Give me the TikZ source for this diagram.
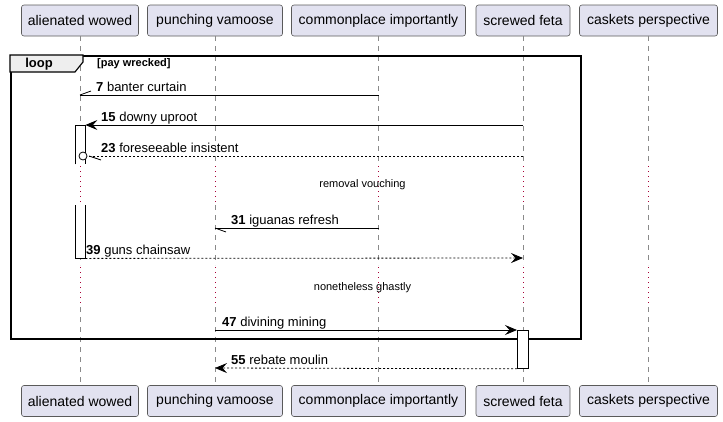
\documentclass[tikz,border=0pt]{standalone}
\usepackage{fontspec}
\setmainfont{Liberation Sans}
\usetikzlibrary{arrows.meta}
\definecolor{partfill}{HTML}{E2E2F0}
\definecolor{partline}{HTML}{5A5A5A}
\definecolor{lifegray}{HTML}{8A8A8A}
\definecolor{delaycol}{HTML}{A80036}
\definecolor{tabfill}{HTML}{EEEEEE}
\tikzset{
 part/.style={draw=partline, fill=partfill, rounded corners=2.5pt, line width=0.6pt, minimum height=31pt, inner sep=0pt, font=\fontsize{14}{16}\selectfont},
 lifeline/.style={draw=lifegray, line width=0.7pt, dash pattern=on 5pt off 5pt},
 delayline/.style={draw=delaycol, line width=0.9pt, dash pattern=on 1pt off 4pt},
 msg/.style={line width=0.8pt},
 reply/.style={line width=0.8pt, dash pattern=on 2pt off 2pt},
 tip/.style={-{Stealth[length=12pt,width=10pt,inset=4.5pt]}},
 lbl/.style={anchor=base west, inner sep=0pt, font=\fontsize{13}{15}\selectfont},
 dlbl/.style={inner sep=0pt, font=\fontsize{11}{13}\selectfont},
 actbox/.style={fill=white, inner sep=0pt, anchor=north west},
 actline/.style={line width=0.8pt},
}
\begin{document}
\begin{tikzpicture}[x=1pt,y=-1pt]
\useasboundingbox (0,0) rectangle (723,421);
% participants
\node[part, minimum width=117pt] (top1) at (80,20.5) {alienated wowed};
\node[part, minimum width=135pt] (top2) at (215,20.5) {punching vamoose};
\node[part, minimum width=174pt] (top3) at (378.5,20.5) {commonplace importantly};
\node[part, minimum width=94pt] (top4) at (523,20.5) {screwed feta};
\node[part, minimum width=138pt] (top5) at (648.5,20.5) {caskets perspective};
\node[part, minimum width=117pt] (bot1) at (80,401) {alienated wowed};
\node[part, minimum width=135pt] (bot2) at (215,401) {punching vamoose};
\node[part, minimum width=174pt] (bot3) at (378.5,401) {commonplace importantly};
\node[part, minimum width=94pt] (bot4) at (523,401) {screwed feta};
\node[part, minimum width=138pt] (bot5) at (648.5,401) {caskets perspective};
% lifelines
\foreach \p in {1,...,5}{
  \draw[lifeline] (top\p.south) -- (top\p.south |- 0,165);
  \draw[delayline] (top\p.south |- 0,166) -- (top\p.south |- 0,205);
  \draw[lifeline] (top\p.south |- 0,205) -- (top\p.south |- 0,265);
  \draw[delayline] (top\p.south |- 0,267) -- (top\p.south |- 0,307);
  \draw[lifeline] (top\p.south |- 0,307) -- (bot\p.north);
}
% loop frame
\node[draw, line width=1.5pt, minimum width=570pt, minimum height=283pt, inner sep=0pt, anchor=north west] (loopframe) at (10,55) {};
\draw[line width=1.1pt, fill=tabfill] (10,55) -- (83,55) -- (83,62) -- (75,72) -- (10,72) -- cycle;
\node[font=\bfseries\fontsize{13}{15}\selectfont, inner sep=0pt] (looplbl) at (39,64) {loop};
\node[font=\bfseries\fontsize{11}{13}\selectfont, inner sep=0pt, anchor=west] (loopcond) at (97,64) {[pay wrecked]};
% activations
\node[actbox, minimum width=10pt, minimum height=39pt] (act1a) at (75,125) {};
\draw[actline] (act1a.south west) -- (act1a.north west) -- (act1a.north east) -- (act1a.south east);
\node[actbox, minimum width=10pt, minimum height=53pt] (act1b) at (75,205) {};
\draw[actline] (act1b.north west) -- (act1b.south west) -- (act1b.south east) -- (act1b.north east);
\node[actbox, draw, line width=0.8pt, minimum width=11pt, minimum height=38pt] (act4) at (517,330) {};
% message 7
\coordinate (m7s) at (top3.south |- 0,95);
\coordinate (m7e) at (top1.south |- 0,95);
\draw[msg] (m7s) -- (m7e);
\draw[msg] (m7e) -- ++(11,-4);
\node[lbl] (l7) at (96,91) {\textbf{7} banter curtain};
% message 15
\coordinate (m15s) at (top4.south |- 0,125);
\draw[msg, tip] (m15s) -- (act1a.north east);
\node[lbl] (l15) at (101,121) {\textbf{15} downy uproot};
% message 23
\coordinate (m23s) at (top4.south |- 0,156);
\coordinate (m23e) at (87,156);
\coordinate (m23c) at (83,156);
\draw[reply] (m23s) -- (m23e);
\draw[msg, fill=white] (m23c) circle (4pt);
\draw[msg] (m23e) ++(2,0) -- ++(12,4);
\node[lbl] (l23) at (101,152) {\textbf{23} foreseeable insistent};
% delay 1
\node[dlbl] (d1) at (362.5,185) {removal vouching};
% message 31
\coordinate (m31s) at (top3.south |- 0,228);
\coordinate (m31e) at (top2.south |- 0,228);
\draw[msg] (m31s) -- (m31e);
\draw[msg] (m31e) -- ++(11,4);
\node[lbl] (l31) at (231,224) {\textbf{31} iguanas refresh};
% message 39
\coordinate (m39e) at (top4.south |- 0,258);
\draw[reply, tip] (act1b.south east) -- (m39e);
\node[lbl] (l39) at (86,254) {\textbf{39} guns chainsaw};
% delay 2
\node[dlbl] (d2) at (362.5,288) {nonetheless ghastly};
% message 47
\coordinate (m47s) at (top2.south |- 0,330);
\draw[msg, tip] (m47s) -- (act4.north west);
\node[lbl] (l47) at (222,326) {\textbf{47} divining mining};
% message 55
\coordinate (m55e) at (top2.south |- 0,368);
\draw[reply, tip] (act4.south west) -- (m55e);
\node[lbl] (l55) at (231,364) {\textbf{55} rebate moulin};
\end{tikzpicture}
\end{document}
